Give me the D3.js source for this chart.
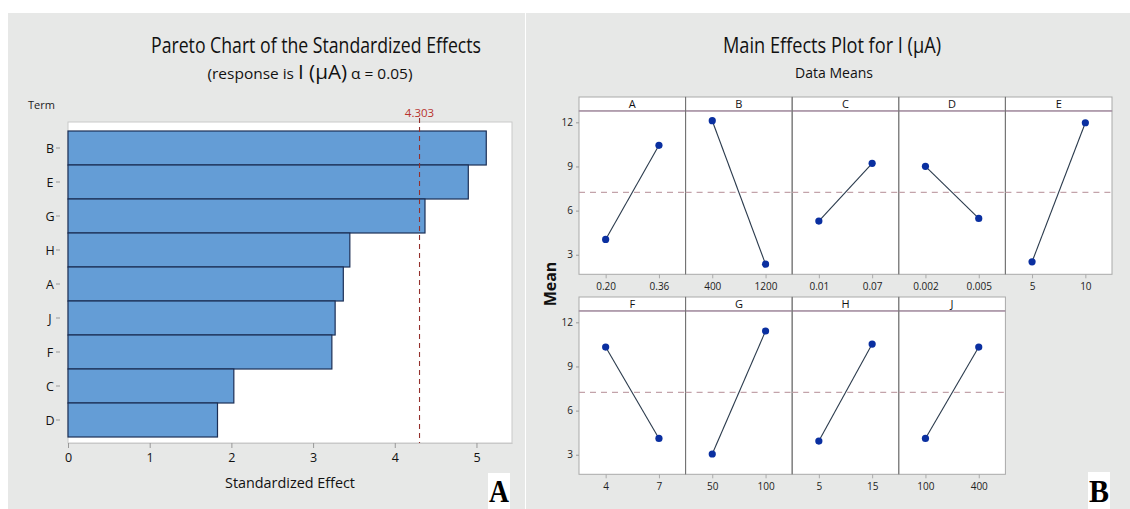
<!DOCTYPE html>
<html lang="en">
<head>
<meta charset="utf-8">
<title>Pareto and main effects</title>
<script src="https://d3js.org/d3.v7.min.js"></script>
<style>
  body { margin: 0; background: #fff; }
  svg { display: block; font-family: "Open Sans", "Noto Sans", sans-serif; }
</style>
</head>
<body>
<div id="chart"></div>
<script>
// Pareto data (panel A)
const terms = ["B", "E", "G", "H", "A", "J", "F", "C", "D"];
const effects = [5.12, 4.90, 4.37, 3.45, 3.37, 3.27, 3.23, 2.03, 1.83];
const critical = 4.303;
const effectTicks = [0, 1, 2, 3, 4, 5];

// Main effects data (panel B)
const factors = ["A", "B", "C", "D", "E", "F", "G", "H", "J"];
const levelLabels = [["0.20", "0.36"], ["400", "1200"], ["0.01", "0.07"], ["0.002", "0.005"], ["5", "10"],
                     ["4", "7"], ["50", "100"], ["5", "15"], ["100", "400"]];
const lowMeans = [4.04, 12.11, 5.29, 9.01, 2.52, 10.32, 3.05, 3.93, 4.11];
const highMeans = [10.44, 2.36, 9.21, 5.47, 11.97, 4.11, 11.41, 10.52, 10.32];
const grandMean = 7.24;
const meanTicks = [3, 6, 9, 12];

const W = 1130, H = 509;
const bg = "#e7e8e7";

const svg = d3.select("#chart").append("svg")
  .attr("width", W).attr("height", H);

// panel backgrounds
svg.append("rect").attr("x", 8).attr("y", 13).attr("width", 517).attr("height", H - 13).attr("fill", bg);
svg.append("rect").attr("x", 526).attr("y", 13).attr("width", W - 526).attr("height", H - 13).attr("fill", bg);

// squeeze text to a width (the source picture is a bit condensed)
function fit(sel, w) {
  sel.attr("textLength", w).attr("lengthAdjust", "spacingAndGlyphs");
  return sel;
}

// ---------- Panel A: Pareto ----------
const x = d3.scaleLinear().domain([0, 5.435]).range([68, 512]);
const y = d3.scaleBand().domain(terms).range([131, 437]).padding(0);
const plotTop = 122, plotBot = 443;

fit(svg.append("text").attr("x", 316).attr("y", 53).attr("text-anchor", "middle")
  .attr("font-size", 22).attr("fill", "#111")
  .text("Pareto Chart of the Standardized Effects"), 330);

const sub = fit(svg.append("text").attr("x", 310).attr("y", 79).attr("text-anchor", "middle")
  .attr("font-size", 15).attr("fill", "#111"), 205);
sub.append("tspan").text("(response is ");
sub.append("tspan").attr("font-size", 20).text("I (µA)");
sub.append("tspan").text(" α = 0.05)");

svg.append("text").attr("x", 28).attr("y", 109).attr("font-size", 11).attr("fill", "#222")
  .text("Term");

svg.append("rect").attr("x", x(0)).attr("y", plotTop)
  .attr("width", x.range()[1] - x(0)).attr("height", plotBot - plotTop)
  .attr("fill", "#fff").attr("stroke", "#c9c9c9");

svg.append("g").selectAll("rect")
  .data(terms)
  .join("rect")
  .attr("x", x(0))
  .attr("y", d => y(d))
  .attr("width", (d, i) => x(effects[i]) - x(0))
  .attr("height", y.bandwidth())
  .attr("fill", "#649dd6")
  .attr("stroke", "#1c2f55")
  .attr("stroke-width", 1.2);

// term axis
const yAxis = svg.append("g");
yAxis.selectAll("line").data(terms).join("line")
  .attr("x1", 56).attr("x2", 60)
  .attr("y1", d => y(d) + y.bandwidth() / 2).attr("y2", d => y(d) + y.bandwidth() / 2)
  .attr("stroke", "#999");
yAxis.selectAll("text").data(terms).join("text")
  .attr("x", 50).attr("y", d => y(d) + y.bandwidth() / 2 + 4.5)
  .attr("text-anchor", "middle").attr("font-size", 12.5).attr("fill", "#111")
  .text(d => d);

// effect axis
const xAxis = svg.append("g").attr("transform", `translate(0,${plotBot})`)
  .call(d3.axisBottom(x).tickValues(effectTicks).tickFormat(d3.format("d")).tickSize(5).tickSizeOuter(0));
xAxis.select(".domain").attr("stroke", "#c9c9c9");
xAxis.selectAll(".tick line").attr("stroke", "#999");
xAxis.selectAll(".tick text").attr("font-size", 12.5).attr("fill", "#111")
  .attr("font-family", "'Open Sans', sans-serif").attr("dy", "0.9em");

svg.append("line").attr("x1", x(critical)).attr("x2", x(critical))
  .attr("y1", plotTop - 4).attr("y2", plotBot)
  .attr("stroke", "#94302c").attr("stroke-width", 1.1).attr("stroke-dasharray", "5,4");
svg.append("text").attr("x", x(critical)).attr("y", 117).attr("text-anchor", "middle")
  .attr("font-size", 11.5).attr("fill", "#b8332e").text(critical.toFixed(3));

fit(svg.append("text").attr("x", 290).attr("y", 488).attr("text-anchor", "middle")
  .attr("font-size", 15).attr("fill", "#111").text("Standardized Effect"), 130);

// ---------- Panel B: Main effects ----------
fit(svg.append("text").attr("x", 832).attr("y", 53).attr("text-anchor", "middle")
  .attr("font-size", 22).attr("fill", "#111").text("Main Effects Plot for I (µA)"), 218);
fit(svg.append("text").attr("x", 834).attr("y", 78).attr("text-anchor", "middle")
  .attr("font-size", 15).attr("fill", "#111").text("Data Means"), 78);

svg.append("text").attr("transform", "translate(556,284) rotate(-90)")
  .attr("text-anchor", "middle").attr("font-size", 16).attr("font-weight", "bold")
  .attr("fill", "#111").text("Mean");

const px0 = 579, pw = 106.6, perRow = 5;
const stripH = 14, rowGap = 200, rowTop = 97, plotH = 163.3;

factors.forEach((f, i) => {
  const row = Math.floor(i / perRow), col = i % perRow;
  const left = px0 + col * pw;
  const top = rowTop + row * rowGap;
  const pTop = top + stripH, pBot = pTop + plotH;
  const g = svg.append("g");

  const ys = d3.scaleLinear().domain([1.67, 12.77]).range([pBot, pTop]);
  const xs = d3.scalePoint().domain(levelLabels[i]).range([left, left + pw]).padding(0.5);

  // strip
  g.append("rect").attr("x", left).attr("y", top).attr("width", pw).attr("height", stripH)
    .attr("fill", "#fff").attr("stroke", "#a9a9a9");
  g.append("text").attr("x", left + pw / 2).attr("y", top + 11).attr("text-anchor", "middle")
    .attr("font-size", 11).attr("fill", "#111").text(f);
  // plot area
  g.append("rect").attr("x", left).attr("y", pTop).attr("width", pw).attr("height", plotH)
    .attr("fill", "#fff").attr("stroke", "#a9a9a9");
  g.append("line").attr("x1", left).attr("x2", left + pw).attr("y1", pTop).attr("y2", pTop)
    .attr("stroke", "#a27f9c").attr("stroke-width", 1.2);
  if (col > 0) {
    g.append("line").attr("x1", left).attr("x2", left).attr("y1", top).attr("y2", pBot)
      .attr("stroke", "#6f6f6f");
  }

  // grand mean reference
  g.append("line").attr("x1", left).attr("x2", left + pw)
    .attr("y1", ys(grandMean)).attr("y2", ys(grandMean))
    .attr("stroke", "#c3a3aa").attr("stroke-width", 1.4).attr("stroke-dasharray", "6,5");

  // x axis labels
  const xa = g.append("g").attr("transform", `translate(0,${pBot})`)
    .call(d3.axisBottom(xs).tickSize(4).tickSizeOuter(0));
  xa.select(".domain").remove();
  xa.selectAll(".tick line").attr("stroke", "#aaa");
  xa.selectAll(".tick text").attr("font-size", 10).attr("fill", "#222")
    .attr("font-family", "'Open Sans', sans-serif").attr("dy", "0.9em");

  // y axis on first column
  if (col === 0) {
    const ya = g.append("g").attr("transform", `translate(${left},0)`)
      .call(d3.axisLeft(ys).tickValues(meanTicks).tickSize(3).tickSizeOuter(0));
    ya.select(".domain").remove();
    ya.selectAll(".tick line").attr("stroke", "#999");
    ya.selectAll(".tick text").attr("font-size", 10).attr("fill", "#222")
      .attr("font-family", "'Open Sans', sans-serif");
  }

  const pts = [[levelLabels[i][0], lowMeans[i]], [levelLabels[i][1], highMeans[i]]];
  g.append("path").datum(pts)
    .attr("d", d3.line().x(d => xs(d[0])).y(d => ys(d[1])))
    .attr("fill", "none").attr("stroke", "#2a3a4c").attr("stroke-width", 1.1);
  g.selectAll("circle").data(pts).join("circle")
    .attr("cx", d => xs(d[0])).attr("cy", d => ys(d[1])).attr("r", 3.6)
    .attr("fill", "#0a2fa0");
});

// panel letters
function letter(t, bx, by, bw, bh) {
  svg.append("rect").attr("x", bx).attr("y", by).attr("width", bw).attr("height", bh).attr("fill", "#fff");
  fit(svg.append("text").attr("x", bx + bw / 2).attr("y", by + bh - 7).attr("text-anchor", "middle")
    .attr("font-family", "'Liberation Serif', 'DejaVu Serif', serif").attr("font-weight", "bold")
    .attr("font-size", 31).attr("fill", "#000").text(t), 20);
}
letter("A", 488, 473, 22, 36);
letter("B", 1088, 472, 22, 37);
</script>
</body>
</html>
